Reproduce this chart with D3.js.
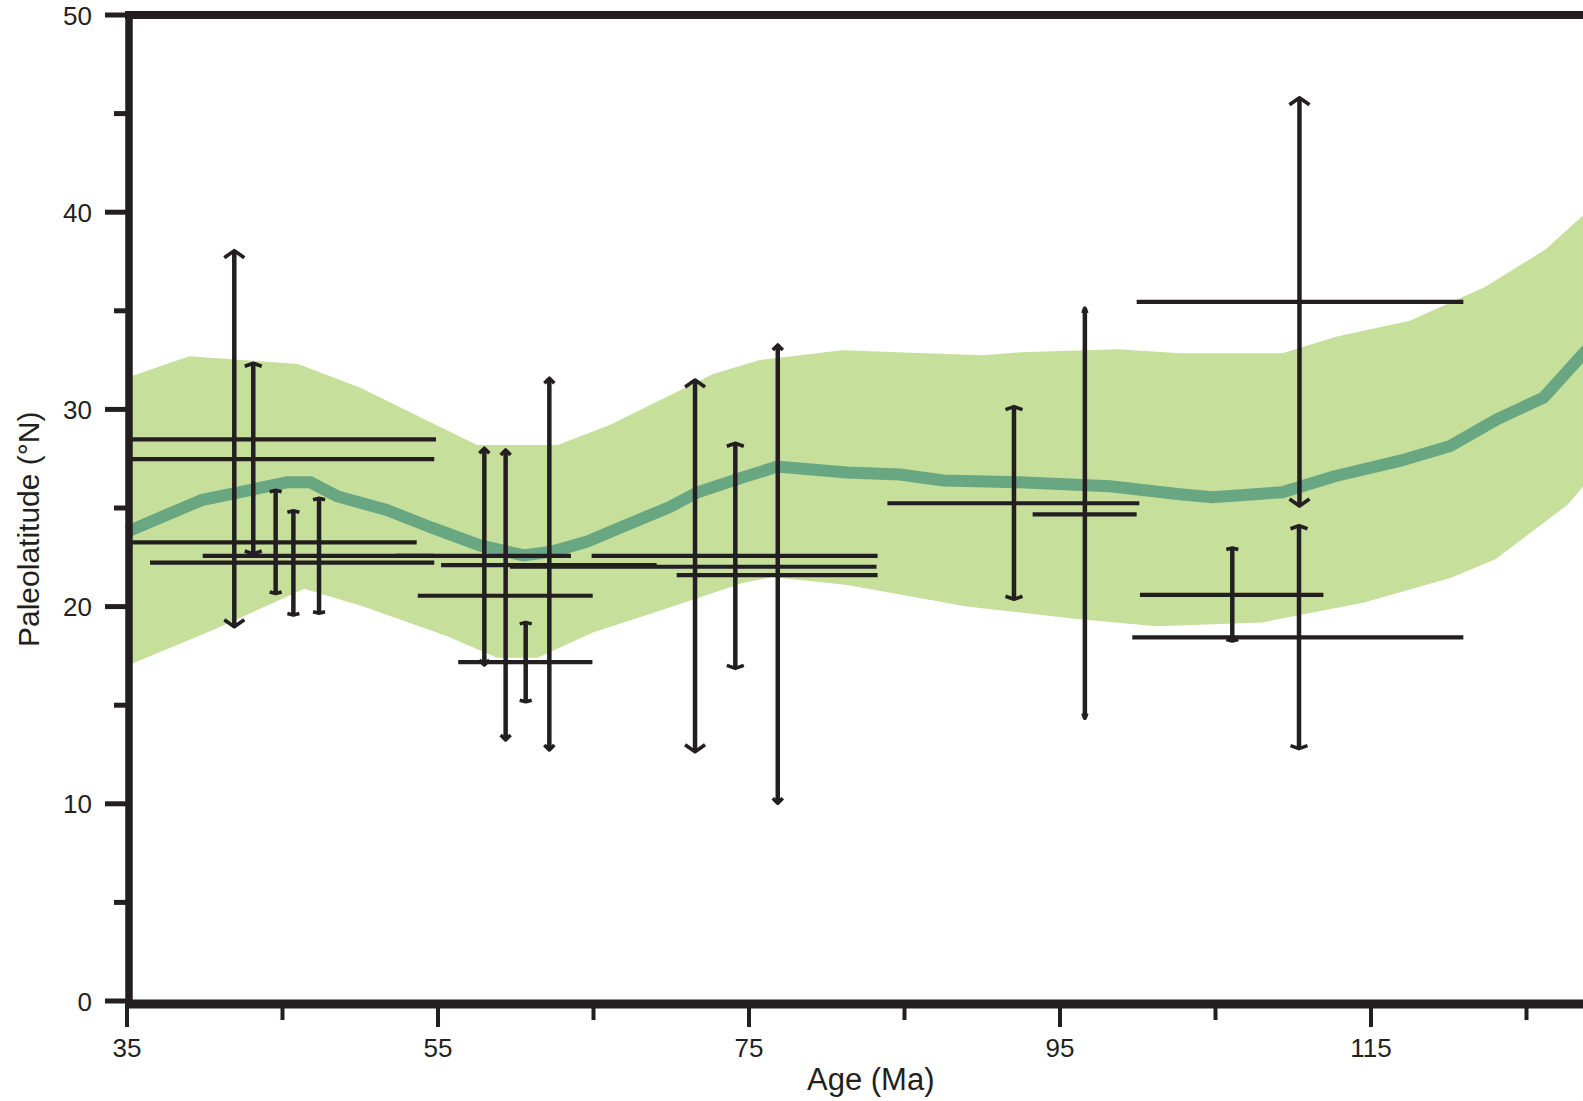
<!DOCTYPE html>
<html>
<head>
<meta charset="utf-8">
<script src="https://cdn.jsdelivr.net/npm/d3@7"></script>
<style>
    body { margin: 0; background: #fff; overflow: hidden; }
    svg { display: block; }
</style>
</head>
<body>
<svg id="chart"></svg>
<script>
// envelope of the reference paleolatitude curve
const upperAge = [35, 39, 46, 50, 57.5, 62.7, 66, 72.7, 75.7, 81, 90, 92.5, 98.7, 102.7, 109.3, 112.8, 117.5, 122.3, 126.2, 130]
const upperLat = [31.6, 32.7, 32.3, 31.1, 28.2, 28.2, 29.2, 31.8, 32.5, 33.0, 32.75, 32.9, 33.05, 32.85, 32.85, 33.7, 34.5, 36.2, 38.1, 40.8]
const lowerAge = [35, 40.5, 46.4, 50.2, 55.6, 58.8, 61.4, 65, 69.7, 74.6, 76.5, 81.3, 89, 95.8, 101.2, 108, 114.5, 120.1, 123, 127.7, 130]
const lowerLat = [17.0, 18.8, 20.9, 20.0, 18.5, 17.4, 17.4, 18.7, 19.9, 21.2, 21.5, 21.1, 20.0, 19.4, 19.0, 19.2, 20.2, 21.45, 22.4, 25.2, 27.4]

// mean curve
const meanAge = [35, 39.8, 45.3, 46.8, 48.5, 51.7, 54.6, 57.7, 60.5, 62.4, 64.6, 66.7, 69.9, 71.7, 74.4, 76.8, 81.3, 84.7, 87.5, 92.4, 98.2, 102.7, 104.8, 109.3, 112.6, 116.9, 120.1, 123.1, 126.1, 130]
const meanLat = [23.8, 25.4, 26.3, 26.3, 25.6, 24.9, 24.0, 23.1, 22.6, 22.8, 23.3, 24.0, 25.05, 25.8, 26.5, 27.1, 26.8, 26.7, 26.4, 26.3, 26.1, 25.7, 25.55, 25.8, 26.6, 27.4, 28.15, 29.5, 30.6, 34.0]

// age ranges (horizontal bars)
const hLat = [28.48, 27.48, 23.26, 22.57, 22.23, 22.57, 22.1, 20.55, 17.18, 22.57, 22.02, 21.6, 25.24, 24.68, 35.45, 20.59, 18.44]
const hAgeMin = [35, 35, 35, 39.87, 36.48, 52.3, 55.2, 53.7, 56.3, 64.88, 59.63, 70.35, 83.9, 93.24, 99.93, 100.14, 99.65]
const hAgeMax = [54.87, 54.76, 53.63, 54.76, 54.76, 63.55, 69.06, 64.95, 64.93, 83.27, 83.2, 83.27, 100.1, 99.93, 120.94, 111.94, 120.94]

// paleolatitude ranges (vertical bars)
const vAge = [41.9, 43.12, 44.56, 45.7, 47.35, 57.98, 59.35, 60.64, 62.16, 71.53, 74.12, 76.85, 92.04, 96.6, 110.4, 110.37, 106.08]
const vLatMin = [18.98, 22.67, 20.67, 19.57, 19.66, 17.04, 13.24, 15.18, 12.73, 12.64, 16.87, 10.03, 20.37, 14.34, 25.1, 12.8, 18.26]
const vLatMax = [38.05, 32.34, 25.9, 24.86, 25.49, 28.03, 27.94, 19.2, 31.58, 31.49, 28.28, 33.27, 30.14, 35.13, 45.8, 24.1, 22.97]

const xTicks = [35, 45, 55, 65, 75, 85, 95, 105, 115, 125]
const xLabels = [35, 55, 75, 95, 115]
const yTicks = [0, 5, 10, 15, 20, 25, 30, 35, 40, 45, 50]
const yLabels = [0, 10, 20, 30, 40, 50]

// cap look of each vertical bar
const capKind = ["arrow", "flat", "tick", "tick", "tick", "small", "small", "tick", "small", "arrow", "flat", "small", "flat", "point", "arrow", "flat", "tick"]
const caps = {
    arrow: {w: 10, d: 7},
    flat: {w: 8.5, d: 3},
    tick: {w: 6, d: 1.5},
    small: {w: 5, d: 5},
    point: {w: 2, d: 5}
}

let width = 1583
let height = 1101
let ink = "#231f20"
let font = "'Liberation Sans', Arial, Helvetica, sans-serif"

let x = d3.scaleLinear().domain([35, 130]).range([127, 127 + 95 * 15.55])
let y = d3.scaleLinear().domain([0, 50]).range([1001, 15])

const svg = d3.select("#chart")
    .attr("width", width)
    .attr("height", height)
    .attr("viewBox", [0, 0, width, height])

// green envelope
let envPts = upperAge.map((a, i) => [a, upperLat[i]])
    .concat(lowerAge.map((a, i) => [a, lowerLat[i]]).reverse())
let line = d3.line().x(d => x(d[0])).y(d => y(d[1]))

svg.append("path")
    .attr("d", line(envPts) + "Z")
    .attr("fill", "#c6df9b")

svg.append("path")
    .attr("d", line(meanAge.map((a, i) => [a, meanLat[i]])))
    .attr("fill", "none")
    .attr("stroke", "#69a782")
    .attr("stroke-width", 12)

// horizontal bars
svg.append("g")
    .selectAll("line")
    .data(hLat)
    .join("line")
    .attr("x1", (d, i) => x(hAgeMin[i]))
    .attr("x2", (d, i) => x(hAgeMax[i]))
    .attr("y1", d => y(d))
    .attr("y2", d => y(d))
    .attr("stroke", ink)
    .attr("stroke-width", 4.2)

// vertical bars with caps
let vg = svg.append("g")
vg.selectAll("line")
    .data(vAge)
    .join("line")
    .attr("x1", d => x(d))
    .attr("x2", d => x(d))
    .attr("y1", (d, i) => y(vLatMax[i]))
    .attr("y2", (d, i) => y(vLatMin[i]))
    .attr("stroke", ink)
    .attr("stroke-width", 4.5)

vg.selectAll("path")
    .data(vAge)
    .join("path")
    .attr("d", (d, i) => {
        let c = caps[capKind[i]]
        let cx = x(d), yt = y(vLatMax[i]), yb = y(vLatMin[i])
        return `M${cx - c.w},${yt + c.d}L${cx},${yt}L${cx + c.w},${yt + c.d}` +
            `M${cx - c.w},${yb - c.d}L${cx},${yb}L${cx + c.w},${yb - c.d}`
    })
    .attr("fill", "none")
    .attr("stroke", ink)
    .attr("stroke-width", 3.6)
    .attr("stroke-linejoin", "round")

// frame
let axes = svg.append("g").attr("stroke", ink).attr("fill", "none")
axes.append("line")
    .attr("x1", x(35) - 2).attr("x2", width)
    .attr("y1", y(50)).attr("y2", y(50))
    .attr("stroke-width", 8)
axes.append("line")
    .attr("x1", x(35) - 2).attr("x2", width)
    .attr("y1", y(0) + 3).attr("y2", y(0) + 3)
    .attr("stroke-width", 9)
axes.append("line")
    .attr("x1", x(35) + 2).attr("x2", x(35) + 2)
    .attr("y1", y(50) - 4).attr("y2", y(0) + 7)
    .attr("stroke-width", 7.5)

// ticks
axes.selectAll(".ytick")
    .data(yTicks)
    .join("line")
    .attr("class", "ytick")
    .attr("x1", d => yLabels.includes(d) ? 105 : 114)
    .attr("x2", x(35))
    .attr("y1", d => y(d))
    .attr("y2", d => y(d))
    .attr("stroke-width", 5)

axes.selectAll(".xtick")
    .data(xTicks)
    .join("line")
    .attr("class", "xtick")
    .attr("x1", d => x(d))
    .attr("x2", d => x(d))
    .attr("y1", y(0) + 5)
    .attr("y2", d => xLabels.includes(d) ? 1027 : 1020)
    .attr("stroke-width", 4)

let labels = svg.append("g")
    .attr("font-family", font)
    .attr("fill", ink)

labels.selectAll(".ylab")
    .data(yLabels)
    .join("text")
    .attr("class", "ylab")
    .attr("x", 92)
    .attr("y", d => y(d) + 9.5)
    .attr("text-anchor", "end")
    .attr("font-size", 26)
    .text(d => d)

labels.selectAll(".xlab")
    .data(xLabels)
    .join("text")
    .attr("class", "xlab")
    .attr("x", d => x(d))
    .attr("y", 1057)
    .attr("text-anchor", "middle")
    .attr("font-size", 26)
    .text(d => d)

labels.append("text")
    .attr("x", 807)
    .attr("y", 1090)
    .attr("font-size", 31)
    .text("Age (Ma)")

labels.append("text")
    .attr("transform", "translate(39,647) rotate(-90)")
    .attr("font-size", 30)
    .text("Paleolatitude (°N)")
</script>
</body>
</html>
